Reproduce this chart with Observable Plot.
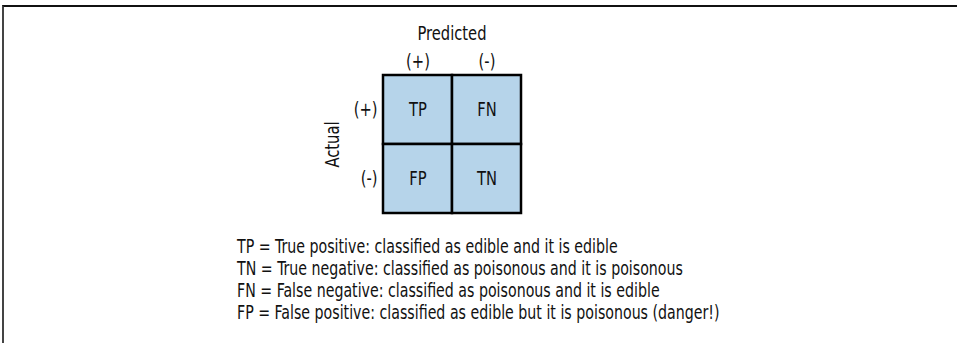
<!DOCTYPE html>
<html>
<head>
<meta charset="utf-8">
<script src="https://cdn.jsdelivr.net/npm/d3@7"></script>
<script src="https://cdn.jsdelivr.net/npm/@observablehq/plot@0.6"></script>
<style>
  html, body { margin: 0; padding: 0; background: #fff; }
  body { width: 957px; height: 343px; position: relative; overflow: hidden;
         font-family: "DejaVu Sans Condensed", "Liberation Sans Narrow", sans-serif; }
  #frame { position: absolute; left: 2px; top: 5px; right: 0; bottom: -4px;
           border-top: 2px solid #111; border-left: 2px solid #444; }
  #chart { position: absolute; left: 0; top: 0; }
  #caption { position: absolute; left: 237px; top: 235px; font-size: 19px; line-height: 22px;
             color: #111; white-space: nowrap; transform-origin: 0 0; transform: scaleX(0.83); }
</style>
</head>
<body>
<div id="frame"></div>
<div id="chart"></div>
<div id="caption"></div>
<script>
const predicted = ["(+)", "(-)"];
const actual = ["(+)", "(-)"];
const cellLabels = [["TP", "FN"], ["FP", "TN"]];
const axisTitleX = "Predicted";
const axisTitleY = "Actual";
const legendLines = [
  "TP = True positive: classified as edible and it is edible",
  "TN = True negative: classified as poisonous and it is poisonous",
  "FN = False negative: classified as poisonous and it is edible",
  "FP = False positive: classified as edible but it is poisonous (danger!)"
];

const cells = actual.flatMap((a, i) =>
  predicted.map((p, j) => ({actual: a, predicted: p, label: cellLabels[i][j]})));

const fontFamily = '"DejaVu Sans Condensed", "Liberation Sans Narrow", sans-serif';

const chart = Plot.plot({
  width: 957,
  height: 228,
  marginLeft: 382,
  marginRight: 436,
  marginTop: 75,
  marginBottom: 15,
  style: {fontFamily, fontSize: "19px", color: "#111", background: "transparent"},
  x: {domain: predicted, padding: 0},
  y: {domain: actual, padding: 0},
  marks: [
    Plot.cell(cells, {x: "predicted", y: "actual", fill: "#b6d4ea", stroke: "#000", strokeWidth: 2.5}),
    Plot.text(cells, {x: "predicted", y: "actual", text: "label", fontSize: 19, fill: "#111"}),
    Plot.axisX({anchor: "top", tickSize: 0, tickPadding: 8, fontSize: 19,
                label: axisTitleX, labelAnchor: "center", labelOffset: 49}),
    Plot.axisY({anchor: "left", tickSize: 0, tickPadding: 5, fontSize: 19,
                label: axisTitleY, labelAnchor: "center", labelOffset: 57})
  ]
});
document.getElementById("chart").appendChild(chart);

// condense SVG glyphs horizontally to mimic the narrow face of the original
chart.querySelectorAll("text").forEach(t => {
  const len = t.getComputedTextLength();
  if (len > 0) {
    t.setAttribute("textLength", (len * 0.86).toFixed(2));
    t.setAttribute("lengthAdjust", "spacingAndGlyphs");
  }
});

const cap = document.getElementById("caption");
legendLines.forEach(t => {
  const d = document.createElement("div");
  d.textContent = t;
  cap.appendChild(d);
});
</script>
</body>
</html>
